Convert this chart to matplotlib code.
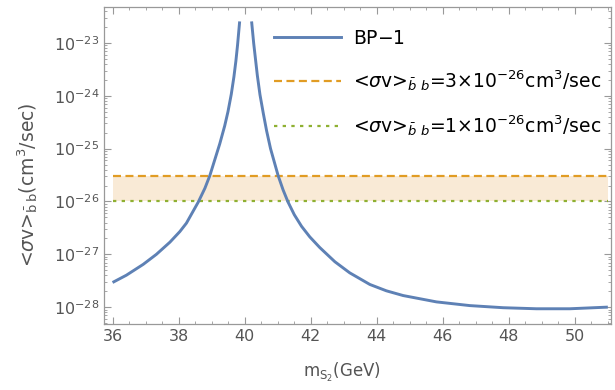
import numpy as np
import matplotlib
matplotlib.use("Agg")
import matplotlib.pyplot as plt
from matplotlib.ticker import LogLocator, MultipleLocator, LogFormatterMathtext, NullFormatter

plt.rcParams['font.family'] = ['DejaVu Sans']
plt.rcParams['mathtext.fontset'] = 'dejavusans'

# BP-1 curve (mass in GeV, log10 of <sigma v>)
# left side of the resonance
mass_lo = [36.03, 36.41, 36.92, 37.32, 37.73, 38.03, 38.23, 38.59, 38.79, 38.94,
           39.24, 39.39, 39.49, 39.59, 39.67, 39.73, 39.78, 39.84]
log_lo = [-27.52, -27.395, -27.19, -27.00, -26.77, -26.57, -26.41, -26.01, -25.75, -25.51,
          -24.91, -24.57, -24.30, -23.97, -23.64, -23.34, -23.04, -22.62]
# right side of the resonance
mass_hi = [40.21, 40.27, 40.38, 40.46, 40.56, 40.66, 40.78, 41.01, 41.16, 41.31,
           41.50, 41.72, 41.97, 42.27, 42.73, 43.18, 43.79, 44.29, 44.80, 45.81,
           46.82, 47.83, 48.84, 49.85, 50.96]
log_hi = [-22.62, -23.01, -23.615, -23.98, -24.33, -24.66, -25.00, -25.51, -25.78, -26.01,
          -26.25, -26.47, -26.67, -26.87, -27.14, -27.35, -27.57, -27.69, -27.78, -27.90,
          -27.97, -28.01, -28.03, -28.03, -28.00]

band_x = [36, 51]
sv_upper = 3e-26
sv_lower = 1e-26
y_ticks = [1e-28, 1e-27, 1e-26, 1e-25, 1e-24, 1e-23]

blue = '#5E81B5'
orange = '#E19C24'
green = '#8FB032'
gray = '#555555'

fig = plt.figure(figsize=(6.15, 3.9), dpi=100)
ax = fig.add_axes([0.169, 0.169, 0.8245, 0.813])

ax.fill_between(band_x, sv_lower, sv_upper, color='#F9EAD6', lw=0, zorder=1)
ax.plot(mass_lo, 10.0 ** np.array(log_lo), color=blue, lw=2.1, zorder=3, label='BP$-$1')
ax.plot(mass_hi, 10.0 ** np.array(log_hi), color=blue, lw=2.1, zorder=3)
ax.plot(band_x, [sv_upper] * 2, color=orange, lw=1.6, dashes=(3.6, 2.0), zorder=2,
        label=r'<$\sigma$v>$_{\bar{b}\ b}$=3$\times$10$^{-26}$cm$^3$/sec')
ax.plot(band_x, [sv_lower] * 2, color=green, lw=1.6, dashes=(1.5, 2.4), zorder=2,
        label=r'<$\sigma$v>$_{\bar{b}\ b}$=1$\times$10$^{-26}$cm$^3$/sec')

ax.set_yscale('log')
ax.set_xlim(35.73, 51.1)
ax.set_ylim(10 ** -28.32, 10 ** -22.32)

ax.xaxis.set_major_locator(MultipleLocator(2))
ax.xaxis.set_minor_locator(MultipleLocator(0.5))
ax.set_yticks(y_ticks)
ax.yaxis.set_minor_locator(LogLocator(base=10, subs=np.arange(2, 10), numticks=20))
ax.yaxis.set_major_formatter(LogFormatterMathtext())
ax.yaxis.set_minor_formatter(NullFormatter())

ax.tick_params(which='both', direction='in', top=True, right=True, colors='#999999',
               labelcolor=gray, labelsize=11.5)
ax.tick_params(which='major', length=5, width=0.8)
ax.tick_params(which='minor', length=2.5, width=0.6)
for s in ax.spines.values():
    s.set_color('#999999')
    s.set_linewidth(0.9)

ax.set_xlabel(r'm$_{\mathrm{S}_2}$(GeV)', color=gray, fontsize=12)
ax.xaxis.set_label_coords(0.469, -0.115)
ax.set_ylabel(r'<$\sigma$v>$_{\bar{\mathrm{b}}\,\mathrm{b}}$(cm$^3$/sec)', color=gray,
              fontsize=13.5)
ax.yaxis.set_label_coords(-0.126, 0.44)

ax.legend(loc='upper left', bbox_to_anchor=(266 / 615, 1 - 21 / 390),
          bbox_transform=fig.transFigure, frameon=False, fontsize=13.5,
          handlelength=3.6, handletextpad=0.62, labelspacing=1.08, borderaxespad=0)

fig.savefig('out.png', dpi=100)
